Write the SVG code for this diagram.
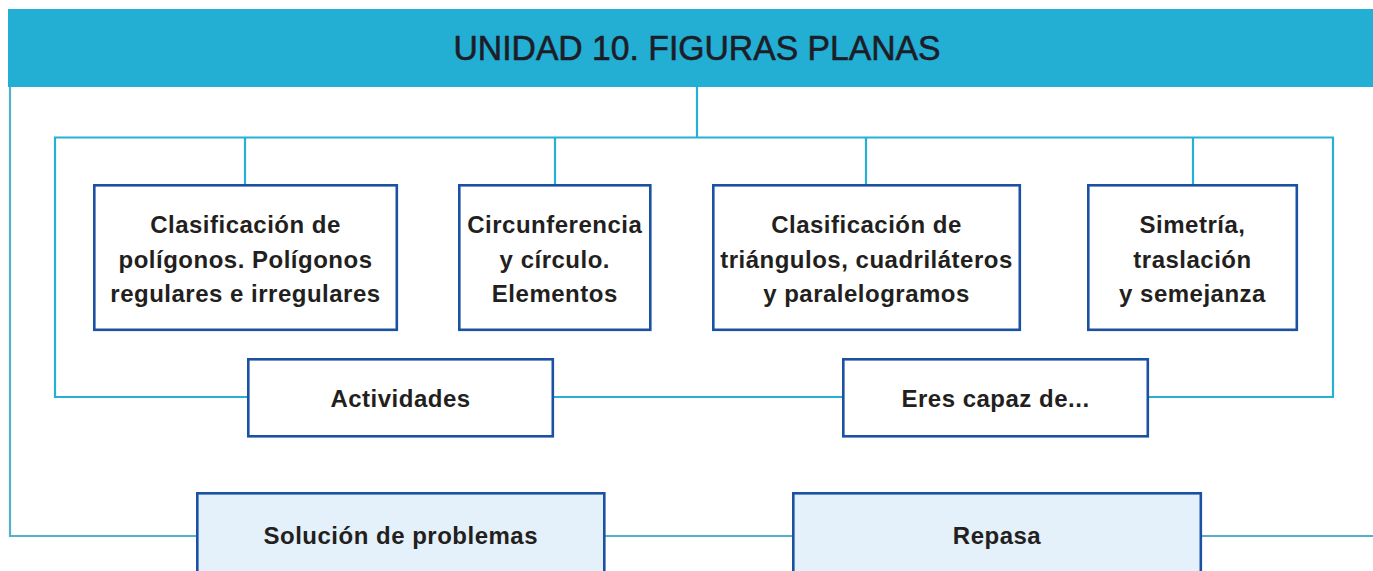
<svg xmlns="http://www.w3.org/2000/svg" width="1373" height="571" viewBox="0 0 1373 571">
<style>
.conn{fill:none;stroke:#27b0d6;stroke-width:2.2}
.outer{fill:none;stroke:#55b0c9;stroke-width:2.2}
.box{fill:#ffffff;stroke:#1b51a3;stroke-width:2.6}
.box2{fill:#e4f1fa;stroke:#1b51a3;stroke-width:2.6}
.t{font-family:"Liberation Sans",Arial,sans-serif;font-weight:bold;font-size:24px;letter-spacing:0.5px;fill:#231f20;text-anchor:middle}
.title{font-family:"Liberation Sans",Arial,sans-serif;font-size:35px;fill:#1d1d28;text-anchor:middle;stroke:#1d1d28;stroke-width:0.6}
</style>
<rect width="1373" height="571" fill="#ffffff"/>
<g id="connectors">
<polyline class="outer" points="10,87 10,536 197,536"/>
<line class="outer" x1="605" y1="536" x2="793" y2="536"/>
<line class="outer" x1="1201" y1="536" x2="1373" y2="536"/>
<line class="conn" x1="697" y1="87" x2="697" y2="137.5"/>
<polyline class="conn" points="248,397 55,397 55,137.5 1333,137.5 1333,397 1148,397"/>
<line class="conn" x1="553" y1="397" x2="843" y2="397"/>
<line class="conn" x1="245" y1="137.5" x2="245" y2="185"/>
<line class="conn" x1="555" y1="137.5" x2="555" y2="185"/>
<line class="conn" x1="866" y1="137.5" x2="866" y2="185"/>
<line class="conn" x1="1193" y1="137.5" x2="1193" y2="185"/>
</g>
<g id="title">
<rect x="8" y="9" width="1365" height="78" fill="#23aed3"/>
<text class="title" x="697" y="59.5" textLength="487" lengthAdjust="spacingAndGlyphs">UNIDAD 10. FIGURAS PLANAS</text>
</g>
<g id="n1">
<rect class="box" x="94.3" y="185.3" width="302.5" height="144.5"/>
<text class="t" x="245.5" y="233">Clasificación de</text>
<text class="t" x="245.5" y="267.5">polígonos. Polígonos</text>
<text class="t" x="245.5" y="302">regulares e irregulares</text>
</g>
<g id="n2">
<rect class="box" x="459.3" y="185.3" width="191" height="144.5"/>
<text class="t" x="554.8" y="233">Circunferencia</text>
<text class="t" x="554.8" y="267.5">y círculo.</text>
<text class="t" x="554.8" y="302">Elementos</text>
</g>
<g id="n3">
<rect class="box" x="713.3" y="185.3" width="306.5" height="144.5"/>
<text class="t" x="866.5" y="233">Clasificación de</text>
<text class="t" x="866.5" y="267.5">triángulos, cuadriláteros</text>
<text class="t" x="866.5" y="302">y paralelogramos</text>
</g>
<g id="n4">
<rect class="box" x="1088.3" y="185.3" width="208.5" height="144.5"/>
<text class="t" x="1192.5" y="233">Simetría,</text>
<text class="t" x="1192.5" y="267.5">traslación</text>
<text class="t" x="1192.5" y="302">y semejanza</text>
</g>
<g id="n5">
<rect class="box" x="248.3" y="359.3" width="304.5" height="77"/>
<text class="t" x="400.5" y="406.5">Actividades</text>
</g>
<g id="n6">
<rect class="box" x="843.3" y="359.3" width="304.5" height="77"/>
<text class="t" x="995.5" y="406.5">Eres capaz de...</text>
</g>
<g id="n7">
<rect class="box2" x="197.3" y="493.3" width="407" height="90"/>
<text class="t" x="400.8" y="543.5">Solución de problemas</text>
</g>
<g id="n8">
<rect class="box2" x="793.3" y="493.3" width="407.5" height="90"/>
<text class="t" x="997" y="543.5">Repasa</text>
</g>
</svg>
